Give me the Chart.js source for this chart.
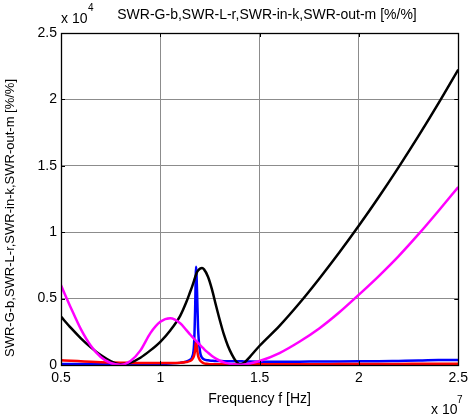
<!DOCTYPE html>
<html>
<head>
<meta charset="utf-8">
<script src="https://cdn.jsdelivr.net/npm/chart.js@4/dist/chart.umd.min.js"></script>
<style>
  html, body { margin: 0; padding: 0; background: #fff; }
  #wrap { width: 473px; height: 415px; position: relative; }
</style>
</head>
<body>
<div id="wrap"><canvas id="swrChart"></canvas></div>
<script>
// frequency in units of 1e7 Hz, SWR values in units of 1e4 %/%
const freq = [0.50, 0.55, 0.60, 0.65, 0.70, 0.75, 0.80, 0.85, 0.90, 0.95,
  1.00, 1.05, 1.10, 1.13, 1.15, 1.16, 1.17, 1.175, 1.18, 1.185,
  1.19, 1.20, 1.21, 1.22, 1.24, 1.26, 1.28, 1.30, 1.32, 1.34,
  1.36, 1.38, 1.40, 1.42, 1.45, 1.50, 1.60, 1.70, 1.80, 1.90,
  2.00, 2.10, 2.20, 2.30, 2.40, 2.50];

const swrG = [0.008, 0.007, 0.007, 0.007, 0.007, 0.007, 0.007, 0.008, 0.008, 0.009,
  0.010, 0.012, 0.016, 0.025, 0.040, 0.060, 0.160, 0.400, 0.740, 0.550,
  0.280, 0.100, 0.055, 0.042, 0.035, 0.032, 0.030, 0.030, 0.029, 0.029,
  0.028, 0.028, 0.028, 0.027, 0.026, 0.025, 0.024, 0.025, 0.026, 0.027,
  0.028, 0.029, 0.031, 0.033, 0.037, 0.038];

const swrL = [0.035, 0.032, 0.028, 0.024, 0.021, 0.019, 0.017, 0.016, 0.015, 0.015,
  0.015, 0.015, 0.017, 0.022, 0.030, 0.042, 0.070, 0.110, 0.180, 0.120,
  0.070, 0.035, 0.020, 0.012, 0.008, 0.006, 0.005, 0.005, 0.005, 0.005,
  0.005, 0.005, 0.005, 0.005, 0.005, 0.005, 0.005, 0.006, 0.006, 0.007,
  0.007, 0.008, 0.008, 0.009, 0.010, 0.010];

const swrIn = [0.364, 0.279, 0.201, 0.133, 0.075, 0.030, 0.005, 0.018, 0.055, 0.110,
  0.175, 0.260, 0.370, 0.470, 0.550, 0.590, 0.635, 0.660, 0.680, 0.700,
  0.712, 0.726, 0.730, 0.720, 0.665, 0.570, 0.450, 0.335, 0.230, 0.145,
  0.080, 0.030, 0.006, 0.014, 0.060, 0.145, 0.295, 0.465, 0.650, 0.845,
  1.050, 1.265, 1.490, 1.725, 1.970, 2.225];

const swrOut = [0.600, 0.430, 0.270, 0.145, 0.060, 0.015, 0.002, 0.030, 0.110, 0.240,
  0.325, 0.352, 0.315, 0.265, 0.230, 0.213, 0.197, 0.190, 0.182, 0.174,
  0.166, 0.150, 0.135, 0.120, 0.093, 0.068, 0.048, 0.032, 0.020, 0.012,
  0.006, 0.003, 0.002, 0.004, 0.012, 0.030, 0.090, 0.175, 0.275, 0.395,
  0.530, 0.670, 0.820, 0.985, 1.160, 1.340];

const xTicks = ['0.5', '1', '1.5', '2', '2.5'];
const yTicks = ['0', '0.5', '1', '1.5', '2', '2.5'];

const titleText = 'SWR-G-b,SWR-L-r,SWR-in-k,SWR-out-m [%/%]';
const xLabel = 'Frequency f [Hz]';

const FONT = "'Liberation Sans', Arial, sans-serif";

function toPoints(values) {
  return values.map((v, i) => ({ x: freq[i], y: v }));
}

// titles, exponent labels, axis box and inward tick marks
const decorations = {
  id: 'decorations',
  afterDraw(chart) {
    const ctx = chart.ctx;
    const a = chart.chartArea;
    const xs = chart.scales.x;
    const ys = chart.scales.y;
    ctx.save();

    ctx.strokeStyle = '#000';
    ctx.lineWidth = 1;
    ctx.beginPath();
    xTicks.forEach(t => {
      const px = Math.round(xs.getPixelForValue(parseFloat(t))) + 0.5;
      ctx.moveTo(px, a.bottom); ctx.lineTo(px, a.bottom - 4);
      ctx.moveTo(px, a.top); ctx.lineTo(px, a.top + 4);
    });
    yTicks.forEach(t => {
      const py = Math.round(ys.getPixelForValue(parseFloat(t))) + 0.5;
      ctx.moveTo(a.left, py); ctx.lineTo(a.left + 4, py);
      ctx.moveTo(a.right, py); ctx.lineTo(a.right - 4, py);
    });
    ctx.stroke();
    ctx.lineWidth = 1.3;
    ctx.strokeRect(Math.round(a.left) + 0.5, Math.round(a.top) + 0.5,
      Math.round(a.right - a.left), Math.round(a.bottom - a.top));

    ctx.fillStyle = '#000';
    ctx.font = '14px ' + FONT;
    ctx.textBaseline = 'alphabetic';
    ctx.textAlign = 'center';
    ctx.fillText(titleText, 267, 19);
    ctx.fillText(xLabel, (a.left + a.right) / 2, 403);

    ctx.textAlign = 'left';
    ctx.fillText('x 10', 61, 23);
    ctx.fillText('x 10', 431, 414);
    ctx.font = '10px ' + FONT;
    ctx.fillText('4', 88, 11);
    ctx.fillText('7', 457, 403);

    ctx.translate(14, 218);
    ctx.rotate(-Math.PI / 2);
    ctx.font = '13px ' + FONT;
    ctx.textAlign = 'center';
    ctx.fillText(titleText, 0, 0);
    ctx.restore();
  }
};

function lineSet(label, values, color, order) {
  return {
    label: label,
    data: toPoints(values),
    borderColor: color,
    backgroundColor: color,
    borderWidth: 2.5,
    pointRadius: 0,
    fill: false,
    cubicInterpolationMode: 'monotone',
    order: order,
  };
}

new Chart(document.getElementById('swrChart'), {
  type: 'line',
  data: {
    datasets: [
      lineSet('SWR-G', swrG, '#0000ff', 4),
      lineSet('SWR-L', swrL, '#ff0000', 3),
      lineSet('SWR-in', swrIn, '#000000', 2),
      lineSet('SWR-out', swrOut, '#ff00ff', 1),
    ],
  },
  options: {
    responsive: true,
    maintainAspectRatio: false,
    animation: false,
    layout: { padding: { top: 33, right: 11, left: 0, bottom: 0 } },
    plugins: {
      legend: { display: false },
      tooltip: { enabled: false },
      title: { display: false },
    },
    scales: {
      x: {
        type: 'linear',
        min: 0.5,
        max: 2.5,
        afterFit: s => { s.height = 50; },
        afterBuildTicks: s => { s.ticks = xTicks.map(t => ({ value: parseFloat(t) })); },
        ticks: {
          color: '#000',
          font: { family: FONT, size: 14 },
          padding: 5,
          maxRotation: 0,
          callback: (v, i) => xTicks[i],
        },
        grid: { color: '#8c8c8c', lineWidth: 1, drawTicks: false },
        border: { display: false },
      },
      y: {
        type: 'linear',
        min: 0,
        max: 2.5,
        afterFit: s => { s.width = 61; },
        afterBuildTicks: s => { s.ticks = yTicks.map(t => ({ value: parseFloat(t) })); },
        ticks: {
          color: '#000',
          font: { family: FONT, size: 14 },
          padding: 4,
          callback: (v, i) => yTicks[i],
        },
        grid: { color: '#8c8c8c', lineWidth: 1, drawTicks: false },
        border: { display: false },
      },
    },
  },
  plugins: [decorations],
});
</script>
</body>
</html>
